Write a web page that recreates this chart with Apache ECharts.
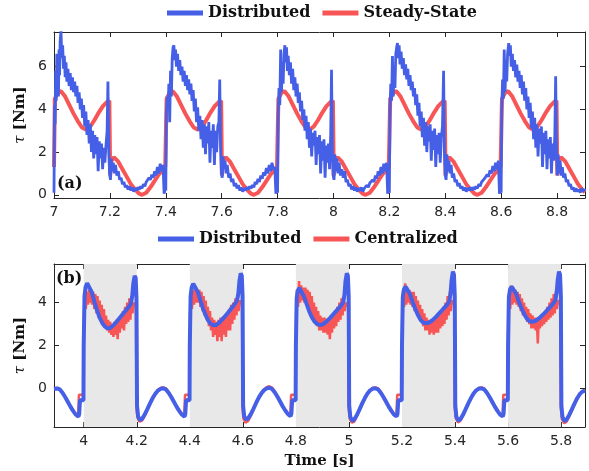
<!DOCTYPE html>
<html>
<head>
<meta charset="utf-8">
<script src="https://cdn.jsdelivr.net/npm/echarts@6/dist/echarts.min.js"></script>
<style>html,body{margin:0;padding:0;background:#fff}#c{width:589px;height:471px}</style>
</head>
<body>
<div id="c"></div>
<script>
// ---- tick values ----
var xTicksTop = [7, 7.2, 7.4, 7.6, 7.8, 8, 8.2, 8.4, 8.6, 8.8];
var yTicksTop = [0, 2, 4, 6];
var xTicksBot = [4, 4.2, 4.4, 4.6, 4.8, 5, 5.2, 5.4, 5.6, 5.8];
var yTicksBot = [0, 2, 4];
var shadeBands = [[4.0, 4.2], [4.4, 4.6], [4.8, 5.0], [5.2, 5.4], [5.6, 5.8]];

// ---- (a) Steady-State ----
var topRed = [
[7.000,1.3],[7.003,4.5],[7.015,4.8],[7.025,4.85],[7.040,4.6],[7.055,4.2],[7.070,3.8],[7.085,3.45],[7.100,3.15],[7.115,3.05],[7.130,3.2],[7.145,3.5],[7.160,3.85],[7.175,4.15],[7.190,4.35],[7.198,4.4],[7.201,0.9],[7.205,1.6],[7.215,1.75],[7.230,1.55],[7.245,1.2],[7.260,0.85],[7.275,0.5],[7.290,0.25],[7.305,0.05],[7.315,0.0],[7.330,0.1],[7.345,0.35],[7.360,0.65],[7.375,0.95],[7.390,1.2],[7.398,1.3],
[7.400,1.3],[7.403,4.5],[7.415,4.8],[7.425,4.85],[7.440,4.6],[7.455,4.2],[7.470,3.8],[7.485,3.45],[7.500,3.15],[7.515,3.05],[7.530,3.2],[7.545,3.5],[7.560,3.85],[7.575,4.15],[7.590,4.35],[7.598,4.4],[7.601,0.9],[7.605,1.6],[7.615,1.75],[7.630,1.55],[7.645,1.2],[7.660,0.85],[7.675,0.5],[7.690,0.25],[7.705,0.05],[7.715,0.0],[7.730,0.1],[7.745,0.35],[7.760,0.65],[7.775,0.95],[7.790,1.2],[7.798,1.3],
[7.800,1.3],[7.803,4.5],[7.815,4.8],[7.825,4.85],[7.840,4.6],[7.855,4.2],[7.870,3.8],[7.885,3.45],[7.900,3.15],[7.915,3.05],[7.930,3.2],[7.945,3.5],[7.960,3.85],[7.975,4.15],[7.990,4.35],[7.998,4.4],[8.001,0.9],[8.005,1.6],[8.015,1.75],[8.030,1.55],[8.045,1.2],[8.060,0.85],[8.075,0.5],[8.090,0.25],[8.105,0.05],[8.115,0.0],[8.130,0.1],[8.145,0.35],[8.160,0.65],[8.175,0.95],[8.190,1.2],[8.198,1.3],
[8.200,1.3],[8.203,4.5],[8.215,4.8],[8.225,4.85],[8.240,4.6],[8.255,4.2],[8.270,3.8],[8.285,3.45],[8.300,3.15],[8.315,3.05],[8.330,3.2],[8.345,3.5],[8.360,3.85],[8.375,4.15],[8.390,4.35],[8.398,4.4],[8.401,0.9],[8.405,1.6],[8.415,1.75],[8.430,1.55],[8.445,1.2],[8.460,0.85],[8.475,0.5],[8.490,0.25],[8.505,0.05],[8.515,0.0],[8.530,0.1],[8.545,0.35],[8.560,0.65],[8.575,0.95],[8.590,1.2],[8.598,1.3],
[8.600,1.3],[8.603,4.5],[8.615,4.8],[8.625,4.85],[8.640,4.6],[8.655,4.2],[8.670,3.8],[8.685,3.45],[8.700,3.15],[8.715,3.05],[8.730,3.2],[8.745,3.5],[8.760,3.85],[8.775,4.15],[8.790,4.35],[8.798,4.4],[8.801,0.9],[8.805,1.6],[8.815,1.75],[8.830,1.55],[8.845,1.2],[8.860,0.85],[8.875,0.5],[8.890,0.25],[8.900,0.12]
];

// ---- (a) Distributed ----
var topBlue = [
[7.000,0.1],[7.002,4.2],[7.004,3.3],[7.006,5.8],[7.008,4.4],[7.010,6.6],[7.012,5.0],[7.014,6.2],[7.016,4.6],[7.018,6.8],[7.020,5.6],[7.022,7.2],[7.025,7.65],[7.028,6.4],[7.031,7.0],[7.034,5.9],[7.037,6.5],[7.040,5.5],[7.043,6.2],[7.046,5.3],[7.050,5.9],[7.054,5.1],[7.058,5.7],[7.062,4.9],[7.066,5.5],[7.070,4.8],[7.074,5.3],[7.078,4.6],[7.082,5.1],[7.086,4.3],[7.090,4.8],[7.094,4.0],[7.098,4.5],[7.102,3.6],[7.106,4.2],[7.110,3.2],[7.114,3.9],[7.118,2.8],[7.122,3.5],[7.126,2.4],[7.130,3.3],[7.134,2.0],[7.138,3.0],[7.142,1.7],[7.146,2.8],[7.150,1.9],[7.154,2.7],[7.158,1.1],[7.162,2.5],[7.166,1.7],[7.170,2.4],[7.174,1.2],[7.178,2.2],[7.182,1.5],[7.186,2.3],[7.190,3.0],[7.193,5.3],[7.196,2.0],[7.199,1.0],[7.202,0.7],[7.205,1.7],[7.208,1.1],[7.212,1.5],[7.216,1.0],[7.220,1.4],[7.225,0.9],[7.230,1.1],[7.235,0.7],[7.240,0.8],[7.245,0.5],[7.250,0.6],[7.255,0.35],[7.260,0.45],[7.265,0.25],[7.270,0.4],[7.275,0.2],[7.280,0.35],[7.285,0.15],[7.290,0.3],[7.295,0.2],[7.300,0.35],[7.305,0.25],[7.310,0.4],[7.315,0.3],[7.320,0.5],[7.325,0.4],[7.330,0.6],[7.335,0.55],[7.340,0.8],[7.345,0.7],[7.350,0.95],[7.355,0.8],[7.360,1.1],[7.365,0.9],[7.370,1.3],[7.375,1.0],[7.380,1.45],[7.385,1.1],[7.390,1.4],[7.394,0.05],[7.398,0.3],
[7.400,0.2],[7.402,3.8],[7.405,4.6],[7.408,4.0],[7.411,5.2],[7.414,3.4],[7.417,5.8],[7.420,4.6],[7.423,6.4],[7.426,6.9],[7.429,7.0],[7.432,6.3],[7.435,6.8],[7.438,6.0],[7.442,6.6],[7.446,5.8],[7.450,6.3],[7.454,5.6],[7.458,6.0],[7.462,5.3],[7.466,5.8],[7.470,5.1],[7.474,5.6],[7.478,4.9],[7.482,5.4],[7.486,4.7],[7.490,5.2],[7.494,4.4],[7.498,4.9],[7.502,3.9],[7.506,4.5],[7.510,3.4],[7.514,4.1],[7.518,3.0],[7.522,3.7],[7.526,2.6],[7.530,3.5],[7.534,2.2],[7.538,3.3],[7.542,1.9],[7.546,3.2],[7.550,2.4],[7.554,3.4],[7.558,1.5],[7.562,3.0],[7.566,2.2],[7.570,3.3],[7.574,1.4],[7.578,3.0],[7.582,2.0],[7.586,3.2],[7.590,3.4],[7.593,5.4],[7.596,2.2],[7.599,1.0],[7.602,0.8],[7.605,1.8],[7.608,1.2],[7.612,1.6],[7.616,1.0],[7.620,1.4],[7.625,0.8],[7.630,1.0],[7.635,0.6],[7.640,0.75],[7.645,0.4],[7.650,0.55],[7.655,0.3],[7.660,0.45],[7.665,0.2],[7.670,0.35],[7.675,0.15],[7.680,0.3],[7.685,0.2],[7.690,0.35],[7.695,0.25],[7.700,0.4],[7.705,0.3],[7.710,0.45],[7.715,0.35],[7.720,0.6],[7.725,0.5],[7.730,0.75],[7.735,0.6],[7.740,0.9],[7.745,0.75],[7.750,1.05],[7.755,0.9],[7.760,1.25],[7.765,1.0],[7.770,1.4],[7.775,1.1],[7.780,1.5],[7.785,1.2],[7.790,1.3],[7.794,0.05],[7.798,0.3],
[7.800,0.1],[7.802,3.6],[7.805,5.0],[7.808,4.2],[7.811,6.8],[7.814,4.8],[7.817,6.2],[7.820,5.2],[7.823,6.6],[7.826,7.0],[7.829,6.2],[7.832,6.9],[7.835,5.8],[7.838,6.5],[7.842,5.6],[7.846,6.2],[7.850,5.2],[7.854,5.9],[7.858,4.9],[7.862,5.5],[7.866,4.6],[7.870,5.2],[7.874,4.3],[7.878,4.8],[7.882,3.9],[7.886,4.4],[7.890,3.5],[7.894,4.0],[7.898,3.0],[7.902,3.7],[7.906,2.6],[7.910,3.4],[7.914,2.2],[7.918,3.1],[7.922,1.8],[7.926,2.9],[7.930,2.3],[7.934,3.0],[7.938,1.4],[7.942,2.7],[7.946,1.9],[7.950,2.8],[7.954,1.0],[7.958,2.5],[7.962,1.6],[7.966,2.6],[7.970,0.8],[7.974,2.3],[7.978,1.5],[7.982,2.4],[7.986,1.2],[7.990,2.8],[7.993,5.85],[7.996,2.0],[7.999,0.9],[8.002,0.7],[8.005,1.9],[8.008,1.1],[8.012,1.7],[8.016,1.0],[8.020,1.5],[8.025,0.9],[8.030,1.2],[8.035,0.8],[8.040,1.1],[8.045,0.6],[8.050,0.7],[8.055,0.4],[8.060,0.5],[8.065,0.25],[8.070,0.4],[8.075,0.2],[8.080,0.35],[8.085,0.15],[8.090,0.3],[8.095,0.2],[8.100,0.35],[8.105,0.15],[8.110,0.3],[8.115,0.25],[8.120,0.45],[8.125,0.35],[8.130,0.55],[8.135,0.5],[8.140,0.7],[8.145,0.6],[8.150,0.9],[8.155,0.75],[8.160,1.1],[8.165,0.9],[8.170,1.3],[8.175,1.0],[8.180,1.45],[8.185,1.1],[8.190,1.5],[8.194,0.05],[8.198,0.3],
[8.200,0.1],[8.202,3.9],[8.205,5.2],[8.208,4.4],[8.211,6.5],[8.214,4.6],[8.217,6.0],[8.220,5.0],[8.223,6.6],[8.226,6.9],[8.229,7.1],[8.232,6.4],[8.235,7.0],[8.238,6.1],[8.242,6.7],[8.246,5.9],[8.250,6.4],[8.254,5.6],[8.258,6.1],[8.262,5.4],[8.266,5.9],[8.270,5.1],[8.274,5.6],[8.278,4.9],[8.282,5.3],[8.286,4.6],[8.290,5.0],[8.294,4.2],[8.298,4.7],[8.302,3.7],[8.306,4.3],[8.310,3.2],[8.314,3.9],[8.318,2.7],[8.322,3.6],[8.326,2.3],[8.330,3.4],[8.334,2.0],[8.338,3.2],[8.342,2.5],[8.346,3.3],[8.350,1.6],[8.354,3.0],[8.358,2.1],[8.362,3.1],[8.366,1.3],[8.370,2.8],[8.374,1.9],[8.378,2.9],[8.382,1.5],[8.386,2.7],[8.390,3.2],[8.394,5.8],[8.397,2.0],[8.400,0.9],[8.403,0.7],[8.406,1.9],[8.409,1.1],[8.413,1.6],[8.417,1.0],[8.421,1.4],[8.425,0.8],[8.430,1.0],[8.435,0.6],[8.440,0.7],[8.445,0.4],[8.450,0.55],[8.455,0.3],[8.460,0.4],[8.465,0.2],[8.470,0.35],[8.475,0.15],[8.480,0.3],[8.485,0.2],[8.490,0.35],[8.495,0.2],[8.500,0.35],[8.505,0.25],[8.510,0.4],[8.515,0.3],[8.520,0.5],[8.525,0.4],[8.530,0.6],[8.535,0.55],[8.540,0.75],[8.545,0.7],[8.550,0.95],[8.555,0.85],[8.560,1.15],[8.565,1.0],[8.570,1.35],[8.575,1.1],[8.580,1.5],[8.585,1.2],[8.590,1.6],[8.594,0.05],[8.598,0.3],
[8.600,0.1],[8.602,4.0],[8.605,5.4],[8.608,4.5],[8.611,6.8],[8.614,4.8],[8.617,6.3],[8.620,5.3],[8.623,6.6],[8.627,7.1],[8.630,6.5],[8.633,7.0],[8.636,6.0],[8.640,6.6],[8.644,5.8],[8.648,6.3],[8.652,5.5],[8.656,6.1],[8.660,5.3],[8.664,5.8],[8.668,5.0],[8.672,5.6],[8.676,4.7],[8.680,5.3],[8.684,4.4],[8.688,5.0],[8.692,4.0],[8.696,4.6],[8.700,3.6],[8.704,4.3],[8.708,3.1],[8.712,3.9],[8.716,2.6],[8.720,3.6],[8.724,2.2],[8.728,3.3],[8.732,1.8],[8.736,3.1],[8.740,2.4],[8.744,3.2],[8.748,1.3],[8.752,2.9],[8.756,1.9],[8.760,3.0],[8.764,1.2],[8.768,2.6],[8.772,1.7],[8.776,2.7],[8.780,1.0],[8.784,2.4],[8.788,1.6],[8.792,2.8],[8.795,5.55],[8.798,2.0],[8.801,0.9],[8.804,1.9],[8.807,1.0],[8.811,1.6],[8.815,0.9],[8.819,1.3],[8.823,0.8],[8.828,1.0],[8.833,0.6],[8.838,0.7],[8.843,0.4],[8.848,0.5],[8.853,0.25],[8.858,0.35],[8.863,0.15],[8.868,0.3],[8.873,0.15],[8.878,0.25],[8.883,0.1],[8.888,0.3],[8.893,0.15],[8.898,0.25],[8.900,0.2]
];

// ---- (b) Distributed ----
var botBlue = [
[3.888,-0.02],[3.895,0.0],[3.900,0.0],[3.910,-0.05],[3.920,-0.2],[3.930,-0.4],[3.940,-0.62],[3.950,-0.85],[3.960,-1.05],[3.970,-1.22],[3.980,-1.32],[3.983,-1.2],[3.986,-0.55],[3.999,-0.55],
[4.000,2.0],[4.003,4.3],[4.007,4.72],[4.013,4.9],[4.020,4.82],[4.030,4.5],[4.040,4.05],[4.050,3.65],[4.060,3.3],[4.070,3.05],[4.080,2.88],[4.090,2.8],[4.100,2.82],[4.110,2.92],[4.120,3.05],[4.130,3.2],[4.140,3.35],[4.150,3.5],[4.160,3.65],[4.170,3.8],[4.178,3.95],[4.183,4.3],[4.187,4.9],[4.192,5.25],[4.196,5.15],[4.199,4.2],[4.201,-0.8],[4.205,-1.3],[4.212,-1.48],[4.220,-1.42],[4.230,-1.22],[4.240,-0.97],[4.250,-0.7],[4.260,-0.45],[4.270,-0.25],[4.280,-0.1],[4.290,-0.02],[4.300,0.0],[4.310,-0.05],[4.320,-0.2],[4.330,-0.4],[4.340,-0.62],[4.350,-0.85],[4.360,-1.05],[4.370,-1.22],[4.380,-1.32],[4.383,-1.2],[4.386,-0.55],[4.399,-0.55],
[4.400,2.0],[4.403,4.3],[4.407,4.7],[4.413,4.88],[4.420,4.8],[4.430,4.5],[4.440,4.1],[4.450,3.72],[4.460,3.4],[4.470,3.15],[4.480,3.0],[4.490,2.94],[4.500,2.96],[4.510,3.05],[4.520,3.18],[4.530,3.32],[4.540,3.47],[4.550,3.62],[4.560,3.78],[4.570,3.94],[4.578,4.1],[4.583,4.4],[4.587,5.0],[4.592,5.36],[4.596,5.25],[4.599,4.3],[4.601,-0.8],[4.605,-1.3],[4.612,-1.45],[4.620,-1.4],[4.630,-1.2],[4.640,-0.95],[4.650,-0.68],[4.660,-0.43],[4.670,-0.23],[4.680,-0.08],[4.690,0.0],[4.700,0.03],[4.710,-0.03],[4.720,-0.18],[4.730,-0.38],[4.740,-0.6],[4.750,-0.83],[4.760,-1.03],[4.770,-1.2],[4.780,-1.3],[4.783,-1.18],[4.786,-0.55],[4.799,-0.55],
[4.800,2.0],[4.803,4.2],[4.807,4.55],[4.813,4.68],[4.820,4.6],[4.830,4.3],[4.840,3.95],[4.850,3.6],[4.860,3.32],[4.870,3.12],[4.880,3.0],[4.890,2.96],[4.900,2.98],[4.910,3.06],[4.920,3.18],[4.930,3.3],[4.940,3.44],[4.950,3.58],[4.960,3.72],[4.970,3.86],[4.978,4.0],[4.983,4.35],[4.987,5.0],[4.992,5.37],[4.996,5.25],[4.999,4.3],[5.001,-0.8],[5.005,-1.32],[5.012,-1.51],[5.020,-1.45],[5.030,-1.24],[5.040,-0.98],[5.050,-0.7],[5.060,-0.45],[5.070,-0.24],[5.080,-0.09],[5.090,-0.01],[5.100,0.0],[5.110,-0.05],[5.120,-0.2],[5.130,-0.4],[5.140,-0.62],[5.150,-0.85],[5.160,-1.05],[5.170,-1.22],[5.180,-1.31],[5.183,-1.19],[5.186,-0.55],[5.199,-0.55],
[5.200,2.0],[5.203,4.25],[5.207,4.6],[5.213,4.75],[5.220,4.68],[5.230,4.4],[5.240,4.03],[5.250,3.7],[5.260,3.42],[5.270,3.2],[5.280,3.07],[5.290,3.04],[5.300,3.06],[5.310,3.13],[5.320,3.24],[5.330,3.36],[5.340,3.5],[5.350,3.63],[5.360,3.77],[5.370,3.9],[5.378,4.05],[5.383,4.4],[5.387,5.05],[5.392,5.45],[5.396,5.3],[5.399,4.3],[5.401,-0.8],[5.405,-1.32],[5.412,-1.5],[5.420,-1.44],[5.430,-1.23],[5.440,-0.97],[5.450,-0.7],[5.460,-0.45],[5.470,-0.24],[5.480,-0.09],[5.490,-0.01],[5.500,0.0],[5.510,-0.05],[5.520,-0.2],[5.530,-0.4],[5.540,-0.62],[5.550,-0.85],[5.560,-1.05],[5.570,-1.22],[5.580,-1.31],[5.583,-1.19],[5.586,-0.55],[5.599,-0.55],
[5.600,2.0],[5.603,4.25],[5.607,4.6],[5.613,4.75],[5.620,4.68],[5.630,4.42],[5.640,4.07],[5.650,3.75],[5.660,3.48],[5.670,3.27],[5.680,3.14],[5.690,3.11],[5.700,3.13],[5.710,3.2],[5.720,3.3],[5.730,3.42],[5.740,3.55],[5.750,3.68],[5.760,3.81],[5.770,3.95],[5.778,4.1],[5.783,4.45],[5.787,5.05],[5.792,5.45],[5.796,5.3],[5.799,4.3],[5.801,-0.8],[5.805,-1.33],[5.812,-1.52],[5.820,-1.46],[5.830,-1.25],[5.840,-0.99],[5.850,-0.72],[5.860,-0.47],[5.870,-0.27],[5.880,-0.15],[5.890,-0.1]
];

// ---- (b) Centralized ----
var botRed = [
[3.888,0.0],[3.900,0.02],[3.910,-0.03],[3.920,-0.18],[3.930,-0.38],[3.940,-0.6],[3.950,-0.83],[3.960,-1.03],[3.970,-1.2],[3.979,-1.3],[3.982,-0.3],[3.999,-0.3],
[4.001,3.4],[4.004,4.3],[4.008,3.7],[4.012,4.5],[4.016,3.9],[4.020,4.6],[4.024,4.0],[4.028,4.5],[4.032,3.9],[4.036,4.5],[4.040,3.7],[4.044,4.4],[4.048,3.5],[4.052,4.3],[4.056,3.3],[4.060,4.1],[4.064,3.2],[4.068,3.9],[4.072,3.0],[4.076,3.7],[4.080,2.9],[4.084,3.4],[4.088,2.7],[4.092,3.2],[4.096,2.6],[4.100,3.1],[4.104,2.5],[4.108,3.0],[4.112,2.4],[4.116,3.1],[4.120,2.5],[4.124,3.2],[4.128,2.3],[4.132,3.2],[4.136,2.6],[4.140,3.4],[4.144,2.8],[4.148,3.6],[4.152,2.7],[4.156,3.8],[4.160,3.0],[4.164,4.0],[4.168,3.1],[4.172,4.2],[4.176,3.2],[4.180,4.3],[4.184,3.5],[4.188,4.0],[4.197,3.8],
[4.199,-0.9],[4.203,-1.38],[4.210,-1.55],[4.220,-1.5],[4.230,-1.28],[4.240,-1.0],[4.250,-0.72],[4.260,-0.46],[4.270,-0.25],[4.280,-0.08],[4.290,0.02],[4.300,0.05],[4.310,0.0],[4.320,-0.16],[4.330,-0.37],[4.340,-0.6],[4.350,-0.83],[4.360,-1.03],[4.370,-1.2],[4.379,-1.3],[4.382,-0.3],[4.399,-0.3],
[4.401,3.5],[4.404,4.3],[4.408,3.7],[4.412,4.6],[4.416,3.9],[4.420,4.7],[4.424,4.0],[4.428,4.6],[4.432,4.0],[4.436,4.6],[4.440,3.8],[4.444,4.5],[4.448,3.6],[4.452,4.3],[4.456,3.4],[4.460,4.1],[4.464,3.2],[4.468,3.8],[4.472,2.9],[4.476,3.6],[4.480,2.7],[4.484,3.3],[4.488,2.4],[4.492,3.2],[4.496,2.5],[4.500,3.1],[4.504,2.2],[4.508,3.2],[4.512,2.4],[4.516,3.3],[4.520,2.2],[4.524,3.3],[4.528,2.5],[4.532,3.4],[4.536,2.4],[4.540,3.5],[4.544,2.7],[4.548,3.7],[4.552,2.7],[4.556,3.9],[4.560,3.0],[4.564,4.0],[4.568,3.2],[4.572,4.2],[4.576,3.4],[4.580,4.4],[4.584,3.6],[4.588,4.1],[4.597,3.9],
[4.599,-0.9],[4.602,-1.4],[4.610,-1.6],[4.620,-1.52],[4.630,-1.28],[4.640,-1.0],[4.650,-0.72],[4.660,-0.45],[4.670,-0.22],[4.680,-0.05],[4.690,0.06],[4.700,0.1],[4.710,0.04],[4.720,-0.13],[4.730,-0.35],[4.740,-0.58],[4.750,-0.81],[4.760,-1.01],[4.770,-1.18],[4.779,-1.28],[4.782,-0.3],[4.799,-0.3],
[4.801,3.6],[4.804,4.6],[4.808,3.8],[4.812,5.0],[4.816,4.0],[4.820,4.8],[4.824,4.1],[4.828,4.7],[4.832,4.0],[4.836,4.7],[4.840,3.9],[4.844,4.6],[4.848,3.7],[4.852,4.5],[4.856,3.5],[4.860,4.3],[4.864,3.3],[4.868,4.0],[4.872,3.1],[4.876,3.8],[4.880,2.9],[4.884,3.6],[4.888,2.7],[4.892,3.4],[4.896,2.7],[4.900,3.3],[4.904,2.6],[4.908,3.3],[4.912,2.6],[4.916,3.2],[4.920,2.5],[4.924,3.2],[4.928,2.3],[4.932,3.3],[4.936,2.6],[4.940,3.4],[4.944,2.8],[4.948,3.6],[4.952,2.9],[4.956,3.8],[4.960,3.1],[4.964,4.0],[4.968,3.2],[4.972,4.2],[4.976,3.4],[4.980,4.2],[4.984,3.6],[4.988,4.0],[4.997,3.8],
[4.999,-0.9],[5.003,-1.42],[5.011,-1.6],[5.020,-1.55],[5.030,-1.3],[5.040,-1.02],[5.050,-0.73],[5.060,-0.47],[5.070,-0.25],[5.080,-0.08],[5.090,0.02],[5.100,0.05],[5.110,0.0],[5.120,-0.16],[5.130,-0.37],[5.140,-0.6],[5.150,-0.83],[5.160,-1.03],[5.170,-1.2],[5.179,-1.29],[5.182,-0.3],[5.199,-0.3],
[5.201,3.5],[5.204,4.5],[5.208,3.8],[5.212,4.9],[5.216,3.9],[5.220,4.7],[5.224,4.0],[5.228,4.6],[5.232,3.9],[5.236,4.5],[5.240,3.8],[5.244,4.5],[5.248,3.6],[5.252,4.3],[5.256,3.5],[5.260,4.1],[5.264,3.3],[5.268,3.9],[5.272,3.1],[5.276,3.7],[5.280,2.9],[5.284,3.5],[5.288,2.7],[5.292,3.3],[5.296,2.7],[5.300,3.2],[5.304,2.5],[5.308,3.2],[5.312,2.6],[5.316,3.2],[5.320,2.5],[5.324,3.3],[5.328,2.6],[5.332,3.3],[5.336,2.6],[5.340,3.4],[5.344,2.8],[5.348,3.6],[5.352,2.9],[5.356,3.8],[5.360,3.0],[5.364,4.0],[5.368,3.2],[5.372,4.3],[5.376,3.4],[5.380,4.5],[5.384,3.6],[5.388,4.1],[5.397,3.9],
[5.399,-0.9],[5.403,-1.4],[5.411,-1.58],[5.420,-1.52],[5.430,-1.28],[5.440,-1.0],[5.450,-0.72],[5.460,-0.46],[5.470,-0.25],[5.480,-0.08],[5.490,0.02],[5.500,0.05],[5.510,0.0],[5.520,-0.16],[5.530,-0.37],[5.540,-0.6],[5.550,-0.83],[5.560,-1.03],[5.570,-1.2],[5.579,-1.29],[5.582,-0.3],[5.599,-0.3],
[5.601,3.5],[5.604,4.4],[5.608,3.7],[5.612,4.8],[5.616,3.9],[5.620,4.7],[5.624,4.0],[5.628,4.6],[5.632,3.9],[5.636,4.5],[5.640,3.8],[5.644,4.4],[5.648,3.6],[5.652,4.2],[5.656,3.4],[5.660,4.0],[5.664,3.3],[5.668,3.8],[5.672,3.1],[5.676,3.7],[5.680,3.0],[5.684,3.5],[5.688,2.8],[5.692,3.4],[5.696,2.8],[5.700,3.3],[5.704,2.7],[5.708,3.3],[5.712,2.1],[5.716,3.3],[5.720,2.8],[5.724,3.4],[5.728,2.9],[5.732,3.5],[5.736,3.0],[5.740,3.6],[5.744,3.1],[5.748,3.8],[5.752,3.2],[5.756,4.0],[5.760,3.3],[5.764,4.2],[5.768,3.4],[5.772,4.4],[5.776,3.5],[5.780,4.5],[5.784,3.7],[5.788,4.1],[5.797,3.9],
[5.799,-0.9],[5.803,-1.42],[5.811,-1.62],[5.820,-1.56],[5.830,-1.32],[5.840,-1.04],[5.850,-0.75],[5.860,-0.5],[5.870,-0.3],[5.880,-0.15],[5.890,-0.07]
];

var BLUE = '#4560e6', RED = '#f85656', INK = '#262626';
var serif = 'DejaVu Serif', sans = 'DejaVu Sans';

function xAx(grid, pos, min, max, ticks, showLabel, name) {
  var a = {
    type: 'value', gridIndex: grid, position: pos, min: min, max: max,
    axisLine: {show: true, onZero: false, lineStyle: {color: INK, width: 1}},
    axisTick: {show: true, inside: true, length: 5, customValues: ticks, lineStyle: {color: INK}},
    axisLabel: {show: showLabel, customValues: ticks, color: INK, fontSize: 14, fontFamily: sans, margin: 7},
    splitLine: {show: false}
  };
  if (name) {
    a.name = name; a.nameLocation = 'middle'; a.nameGap = 27;
    a.nameTextStyle = {fontFamily: serif, fontWeight: 'bold', fontSize: 15, color: '#111'};
  }
  return a;
}
function yAx(grid, pos, min, max, ticks, showLabel, name) {
  var a = {
    type: 'value', gridIndex: grid, position: pos, min: min, max: max,
    axisLine: {show: true, onZero: false, lineStyle: {color: INK, width: 1}},
    axisTick: {show: true, inside: true, length: 5, customValues: ticks, lineStyle: {color: INK}},
    axisLabel: {show: showLabel, customValues: ticks, color: INK, fontSize: 14, fontFamily: sans, margin: 7},
    splitLine: {show: false}
  };
  if (name) {
    a.name = name; a.nameLocation = 'middle'; a.nameGap = 19;
    a.nameTextStyle = {fontFamily: serif, fontWeight: 'bold', fontSize: 15, color: '#111',
      rich: {t: {fontFamily: serif, fontStyle: 'italic', fontWeight: 'normal', fontSize: 15, color: '#111'}}};
  }
  return a;
}

var legendText = {fontFamily: serif, fontWeight: 'bold', fontSize: 16, color: '#111'};

var option = {
  animation: false,
  backgroundColor: '#fff',
  grid: [
    {left: 54, top: 32, width: 531, height: 166},
    {left: 54, top: 264, width: 531, height: 163}
  ],
  legend: [
    {data: ['Distributed', 'Steady-State'], left: 167, top: 5, padding: 0, icon: 'rect',
     itemWidth: 36, itemHeight: 5, itemGap: 12, textStyle: legendText},
    {data: ['Distributed', 'Centralized'], left: 158, top: 231, padding: 0, icon: 'rect',
     itemWidth: 36, itemHeight: 5, itemGap: 12, textStyle: legendText}
  ],
  xAxis: [
    xAx(0, 'bottom', 7, 8.9, xTicksTop, true),
    xAx(0, 'top', 7, 8.9, xTicksTop, false),
    xAx(1, 'bottom', 3.888, 5.89, xTicksBot, true, 'Time [s]'),
    xAx(1, 'top', 3.888, 5.89, xTicksBot, false)
  ],
  yAxis: [
    yAx(0, 'left', -0.15, 7.62, yTicksTop, true, '{t|τ} [Nm]'),
    yAx(0, 'right', -0.15, 7.62, yTicksTop, false),
    yAx(1, 'left', -1.8, 5.8, yTicksBot, true, '{t|τ} [Nm]'),
    yAx(1, 'right', -1.8, 5.8, yTicksBot, false)
  ],
  graphic: [
    {type: 'text', left: 57, top: 176, z: 100, style: {text: '(a)', font: 'bold 16px "DejaVu Serif"', fill: '#111'}},
    {type: 'text', left: 56, top: 271, z: 100, style: {text: '(b)', font: 'bold 16px "DejaVu Serif"', fill: '#111'}}
  ],
  series: [
    {name: 'Steady-State', type: 'line', xAxisIndex: 0, yAxisIndex: 0, data: topRed,
     showSymbol: false, symbol: 'none', color: RED, lineStyle: {color: RED, width: 4}, z: 2},
    {name: 'Distributed', type: 'line', xAxisIndex: 0, yAxisIndex: 0, data: topBlue,
     showSymbol: false, symbol: 'none', color: BLUE, lineStyle: {color: BLUE, width: 2.8}, z: 3},
    {name: 'Centralized', type: 'line', xAxisIndex: 2, yAxisIndex: 2, data: botRed,
     showSymbol: false, symbol: 'none', color: RED, lineStyle: {color: RED, width: 2.5}, z: 2,
     markArea: {silent: true, itemStyle: {color: '#e8e8e8'},
       data: shadeBands.map(function (b) { return [{xAxis: b[0]}, {xAxis: b[1]}]; })}},
    {name: 'Distributed', type: 'line', xAxisIndex: 2, yAxisIndex: 2, data: botBlue,
     showSymbol: false, symbol: 'none', color: BLUE, lineStyle: {color: BLUE, width: 4}, z: 3}
  ]
};
var chart = echarts.init(document.getElementById('c'), null, {renderer: 'canvas'});
chart.setOption(option);
</script>
</body>
</html>
